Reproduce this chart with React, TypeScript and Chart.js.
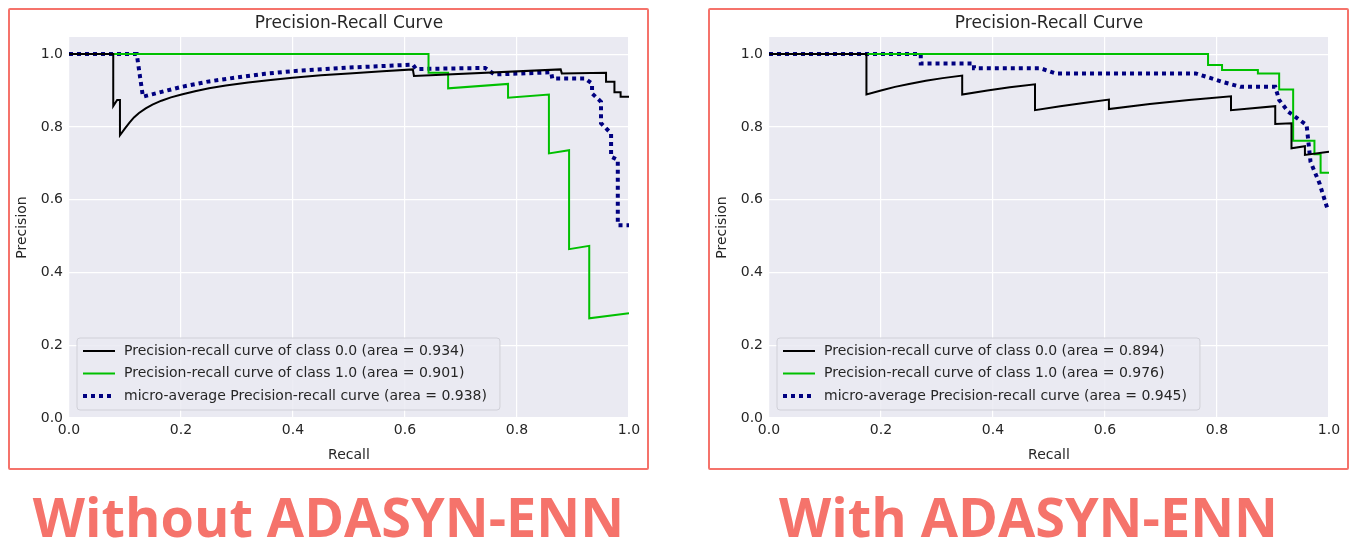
import { useEffect, useRef } from "react";
import { Chart, registerables } from "chart.js";

Chart.register(...registerables);

type P = { x: number; y: number };

// Without ADASYN-ENN
const leftClass0: P[] = [
  { x: 0, y: 1 }, { x: 0.079, y: 1 }, { x: 0.079, y: 0.857 }, { x: 0.086, y: 0.874 },
  { x: 0.091, y: 0.874 }, { x: 0.091, y: 0.777 }, { x: 0.1, y: 0.796 }, { x: 0.108, y: 0.812 },
  { x: 0.116, y: 0.826 }, { x: 0.125, y: 0.838 }, { x: 0.137, y: 0.851 }, { x: 0.149, y: 0.861 },
  { x: 0.165, y: 0.872 }, { x: 0.182, y: 0.881 }, { x: 0.201, y: 0.889 }, { x: 0.225, y: 0.898 },
  { x: 0.25, y: 0.906 }, { x: 0.28, y: 0.914 }, { x: 0.32, y: 0.922 }, { x: 0.36, y: 0.929 },
  { x: 0.399, y: 0.935 }, { x: 0.45, y: 0.942 }, { x: 0.5, y: 0.947 }, { x: 0.56, y: 0.953 },
  { x: 0.614, y: 0.958 }, { x: 0.616, y: 0.94 }, { x: 0.878, y: 0.958 }, { x: 0.88, y: 0.947 },
  { x: 0.959, y: 0.949 }, { x: 0.959, y: 0.924 }, { x: 0.974, y: 0.924 }, { x: 0.974, y: 0.895 },
  { x: 0.985, y: 0.895 }, { x: 0.985, y: 0.883 }, { x: 1, y: 0.883 },
];
const leftClass1: P[] = [
  { x: 0, y: 1 }, { x: 0.642, y: 1 }, { x: 0.642, y: 0.949 }, { x: 0.677, y: 0.949 },
  { x: 0.677, y: 0.906 }, { x: 0.784, y: 0.918 }, { x: 0.784, y: 0.88 }, { x: 0.857, y: 0.889 },
  { x: 0.857, y: 0.727 }, { x: 0.893, y: 0.736 }, { x: 0.893, y: 0.464 }, { x: 0.929, y: 0.473 },
  { x: 0.929, y: 0.274 }, { x: 1, y: 0.288 },
];
const leftMicro: P[] = [
  { x: 0, y: 1 }, { x: 0.121, y: 1 }, { x: 0.132, y: 0.883 }, { x: 0.15, y: 0.89 },
  { x: 0.175, y: 0.9 }, { x: 0.201, y: 0.91 }, { x: 0.25, y: 0.925 }, { x: 0.3, y: 0.936 },
  { x: 0.35, y: 0.946 }, { x: 0.399, y: 0.953 }, { x: 0.5, y: 0.963 }, { x: 0.614, y: 0.971 },
  { x: 0.62, y: 0.959 }, { x: 0.743, y: 0.962 }, { x: 0.76, y: 0.944 }, { x: 0.861, y: 0.95 },
  { x: 0.863, y: 0.933 }, { x: 0.921, y: 0.933 }, { x: 0.934, y: 0.919 }, { x: 0.934, y: 0.892 },
  { x: 0.95, y: 0.869 }, { x: 0.95, y: 0.81 }, { x: 0.968, y: 0.782 }, { x: 0.968, y: 0.718 },
  { x: 0.98, y: 0.709 }, { x: 0.98, y: 0.53 }, { x: 1, y: 0.53 },
];

// With ADASYN-ENN
const rightClass0: P[] = [
  { x: 0, y: 1 }, { x: 0.174, y: 1 }, { x: 0.174, y: 0.889 }, { x: 0.2, y: 0.9 },
  { x: 0.225, y: 0.91 }, { x: 0.25, y: 0.918 }, { x: 0.28, y: 0.927 }, { x: 0.31, y: 0.934 },
  { x: 0.345, y: 0.941 }, { x: 0.345, y: 0.889 }, { x: 0.39, y: 0.9 }, { x: 0.43, y: 0.909 },
  { x: 0.475, y: 0.917 }, { x: 0.475, y: 0.846 }, { x: 0.52, y: 0.857 }, { x: 0.565, y: 0.866 },
  { x: 0.607, y: 0.875 }, { x: 0.607, y: 0.849 }, { x: 0.68, y: 0.863 }, { x: 0.75, y: 0.874 },
  { x: 0.825, y: 0.884 }, { x: 0.825, y: 0.846 }, { x: 0.904, y: 0.857 }, { x: 0.904, y: 0.808 },
  { x: 0.933, y: 0.81 }, { x: 0.933, y: 0.741 }, { x: 0.957, y: 0.747 }, { x: 0.957, y: 0.723 },
  { x: 1, y: 0.732 },
];
const rightClass1: P[] = [
  { x: 0, y: 1 }, { x: 0.784, y: 1 }, { x: 0.784, y: 0.97 }, { x: 0.809, y: 0.97 },
  { x: 0.809, y: 0.956 }, { x: 0.873, y: 0.956 }, { x: 0.873, y: 0.947 }, { x: 0.911, y: 0.947 },
  { x: 0.911, y: 0.903 }, { x: 0.936, y: 0.903 }, { x: 0.936, y: 0.762 }, { x: 0.974, y: 0.762 },
  { x: 0.974, y: 0.725 }, { x: 0.985, y: 0.725 }, { x: 0.985, y: 0.674 }, { x: 1, y: 0.674 },
];
const rightMicro: P[] = [
  { x: 0, y: 1 }, { x: 0.271, y: 1 }, { x: 0.271, y: 0.974 }, { x: 0.366, y: 0.974 },
  { x: 0.366, y: 0.961 }, { x: 0.485, y: 0.961 }, { x: 0.512, y: 0.947 }, { x: 0.762, y: 0.947 },
  { x: 0.809, y: 0.924 }, { x: 0.842, y: 0.91 }, { x: 0.904, y: 0.91 }, { x: 0.911, y: 0.874 },
  { x: 0.927, y: 0.842 }, { x: 0.96, y: 0.805 }, { x: 0.967, y: 0.704 }, { x: 0.983, y: 0.645 },
  { x: 0.997, y: 0.576 }, { x: 1, y: 0.576 },
];

const ticks = [0, 0.2, 0.4, 0.6, 0.8, 1.0];
const leftAreas = ["0.934", "0.901", "0.938"];
const rightAreas = ["0.894", "0.976", "0.945"];
const FONT = "'DejaVu Sans', sans-serif";
const SALMON = "#f5736b";

function makeLegendPlugin(areas: string[]) {
  return {
    id: "innerLegend",
    afterDraw(chart: Chart) {
      const { ctx, chartArea } = chart;
      const labels = [
        `Precision-recall curve of class 0.0 (area = ${areas[0]})`,
        `Precision-recall curve of class 1.0 (area = ${areas[1]})`,
        `micro-average Precision-recall curve (area = ${areas[2]})`,
      ];
      ctx.save();
      ctx.font = `14px ${FONT}`;
      const w = Math.max(...labels.map((l) => ctx.measureText(l).width)) + 60;
      const h = 72;
      const x0 = chartArea.left + 8;
      const y0 = chartArea.bottom - 8 - h;
      ctx.fillStyle = "rgba(234,234,242,0.85)";
      ctx.strokeStyle = "#d0d0d8";
      ctx.lineWidth = 1;
      ctx.beginPath();
      ctx.roundRect(x0, y0, w, h, 3);
      ctx.fill();
      ctx.stroke();
      const styles = [
        { c: "#000000", w: 2, d: [] as number[] },
        { c: "#00c000", w: 2, d: [] as number[] },
        { c: "#000080", w: 4, d: [4, 4] },
      ];
      labels.forEach((l, i) => {
        const y = y0 + 13 + i * 22.5;
        ctx.strokeStyle = styles[i].c;
        ctx.lineWidth = styles[i].w;
        ctx.setLineDash(styles[i].d);
        ctx.beginPath();
        ctx.moveTo(x0 + 6, y);
        ctx.lineTo(x0 + 38, y);
        ctx.stroke();
        ctx.setLineDash([]);
        ctx.fillStyle = "#262626";
        ctx.textBaseline = "middle";
        ctx.fillText(l, x0 + 47, y);
      });
      // title
      ctx.font = `17px ${FONT}`;
      ctx.textAlign = "center";
      ctx.textBaseline = "middle";
      ctx.fillStyle = "#262626";
      ctx.fillText("Precision-Recall Curve", (chartArea.left + chartArea.right) / 2, 14);
      ctx.restore();
    },
  };
}

const bgPlugin = {
  id: "plotBg",
  beforeDraw(chart: Chart) {
    const { ctx, chartArea } = chart;
    ctx.save();
    ctx.fillStyle = "#eaeaf2";
    ctx.fillRect(chartArea.left, chartArea.top, chartArea.right - chartArea.left, chartArea.bottom - chartArea.top);
    ctx.restore();
  },
};

function PRChart({ c0, c1, micro, areas }: { c0: P[]; c1: P[]; micro: P[]; areas: string[] }) {
  const ref = useRef<HTMLCanvasElement>(null);
  const inst = useRef<Chart | null>(null);

  useEffect(() => {
    if (!ref.current) return;
    const line = (data: P[], color: string, width: number, dash: number[]) => ({
      data,
      borderColor: color,
      borderWidth: width,
      borderDash: dash,
      showLine: true,
      pointRadius: 0,
      tension: 0,
    });
    const tickFont = { family: FONT, size: 14 };
    inst.current = new Chart(ref.current, {
      type: "scatter",
      data: {
        datasets: [
          line(c0, "#000000", 2, []),
          line(c1, "#00c000", 2, []),
          line(micro, "#000080", 4, [4, 4]),
        ],
      },
      options: {
        animation: false,
        responsive: false,
        layout: { padding: { top: 27, right: 18, left: 0, bottom: 0 } },
        plugins: { legend: { display: false }, tooltip: { enabled: false } },
        scales: {
          x: {
            type: "linear",
            min: 0,
            max: 1,
            afterBuildTicks: (s: any) => { s.ticks = ticks.map((v) => ({ value: v })); },
            afterFit: (s: any) => { s.height = 50; },
            ticks: { font: tickFont, color: "#262626", padding: 4, callback: (v: any) => Number(v).toFixed(1) },
            grid: { color: "#ffffff", lineWidth: 1.2, drawTicks: false },
            border: { display: false },
            title: { display: true, text: "Recall", font: tickFont, color: "#262626", padding: { top: 0 } },
          },
          y: {
            type: "linear",
            min: 0,
            max: 1.047,
            afterBuildTicks: (s: any) => { s.ticks = ticks.map((v) => ({ value: v })); },
            afterFit: (s: any) => { s.width = 59; },
            ticks: { font: tickFont, color: "#262626", padding: 6, callback: (v: any) => Number(v).toFixed(1) },
            grid: { color: "#ffffff", lineWidth: 1.2, drawTicks: false },
            border: { display: false },
            title: { display: true, text: "Precision", font: tickFont, color: "#262626", padding: { bottom: 2 } },
          },
        },
      },
      plugins: [bgPlugin, makeLegendPlugin(areas)],
    });
    return () => {
      inst.current?.destroy();
      inst.current = null;
    };
  }, [c0, c1, micro, areas]);

  return <canvas ref={ref} width={637} height={458} style={{ display: "block" }} />;
}

function Panel(props: { c0: P[]; c1: P[]; micro: P[]; areas: string[]; caption: string }) {
  return (
    <div style={{ width: 641 }}>
      <div style={{ border: `2px solid ${SALMON}`, width: 637, height: 458, borderRadius: 2 }}>
        <PRChart {...props} />
      </div>
      <div
        style={{
          textAlign: "center",
          color: SALMON,
          fontFamily: "'Open Sans', sans-serif",
          fontWeight: 700,
          fontSize: 54,
          lineHeight: "62px",
          marginTop: 15,
          whiteSpace: "nowrap",
        }}
      >
        {props.caption}
      </div>
    </div>
  );
}

export default function App() {
  return (
    <div style={{ display: "flex", gap: 59 }}>
      <Panel c0={leftClass0} c1={leftClass1} micro={leftMicro} areas={leftAreas} caption="Without ADASYN-ENN" />
      <Panel c0={rightClass0} c1={rightClass1} micro={rightMicro} areas={rightAreas} caption="With ADASYN-ENN" />
    </div>
  );
}
